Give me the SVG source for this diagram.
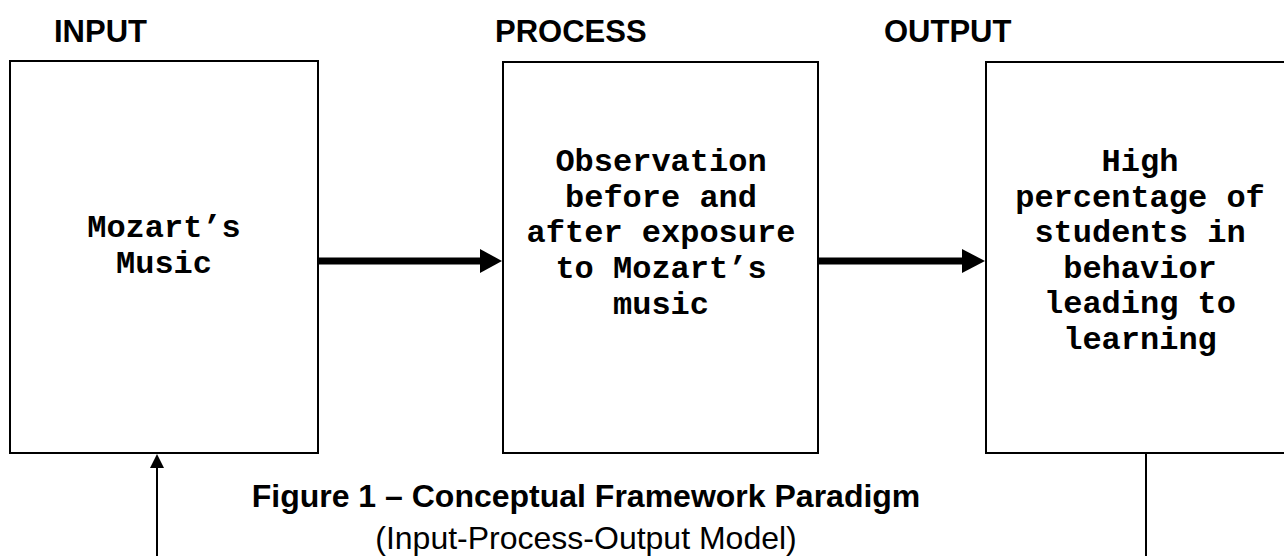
<svg xmlns="http://www.w3.org/2000/svg" width="1284" height="556" viewBox="0 0 1284 556">
<style>
.box{fill:#fff;stroke:#000;stroke-width:2}
.hdr{font-family:"Liberation Sans",Arial,sans-serif;font-weight:bold;font-size:31px;fill:#000}
.bt{font-family:"Liberation Mono","Courier New",monospace;font-weight:bold;font-size:32px;fill:#000;text-anchor:middle}
.cap{font-family:"Liberation Sans",Arial,sans-serif;font-size:32px;fill:#000;text-anchor:middle}
.thick{stroke:#000;stroke-width:7;fill:none}
.thin{stroke:#000;stroke-width:2;fill:none}
</style>
<rect width="1284" height="556" fill="#fff"/>
<g id="headers">
<text class="hdr" x="54" y="42">INPUT</text>
<text class="hdr" x="495" y="42">PROCESS</text>
<text class="hdr" x="884" y="42">OUTPUT</text>
</g>
<g id="input">
<rect class="box" x="10" y="61" width="308" height="392"/>
<text class="bt" x="164" y="237">Mozart’s</text>
<text class="bt" x="164" y="273">Music</text>
</g>
<g id="process">
<rect class="box" x="503" y="62" width="315" height="391"/>
<text class="bt" x="661" y="171">Observation</text>
<text class="bt" x="661" y="207">before and</text>
<text class="bt" x="661" y="242">after exposure</text>
<text class="bt" x="661" y="278">to Mozart’s</text>
<text class="bt" x="661" y="314">music</text>
</g>
<g id="output">
<rect class="box" x="986" y="62" width="308" height="391"/>
<text class="bt" x="1140" y="171">High</text>
<text class="bt" x="1140" y="207">percentage of</text>
<text class="bt" x="1140" y="242">students in</text>
<text class="bt" x="1140" y="278">behavior</text>
<text class="bt" x="1140" y="313">leading to</text>
<text class="bt" x="1140" y="349">learning</text>
</g>
<g id="connectors">
<line class="thick" x1="319" y1="261" x2="482" y2="261"/>
<polygon points="480,249 502,261 480,273" fill="#000"/>
<line class="thick" x1="819" y1="261" x2="964" y2="261"/>
<polygon points="962,249 985,261 962,273" fill="#000"/>
<line class="thin" x1="157" y1="556" x2="157" y2="466"/>
<polygon points="150,468 157,454 164,468" fill="#000"/>
<line class="thin" x1="1146" y1="453" x2="1146" y2="556"/>
</g>
<g id="caption">
<text class="cap" x="586" y="507" font-weight="bold">Figure 1 – Conceptual Framework Paradigm</text>
<text class="cap" x="586" y="549">(Input-Process-Output Model)</text>
</g>
</svg>
